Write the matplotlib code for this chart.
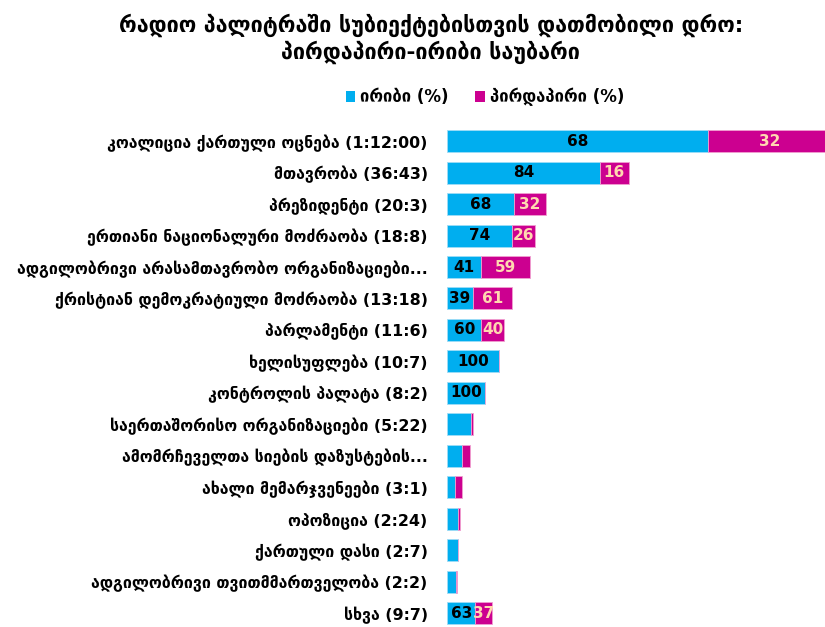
import matplotlib
matplotlib.use("Agg")
import matplotlib.pyplot as plt
import numpy as np
from matplotlib.patches import Patch

plt.rcParams['font.family'] = ['DejaVu Sans']

title = "რადიო პალიტრაში სუბიექტებისთვის დათმობილი დრო:\nპირდაპირი-ირიბი საუბარი"
legend_labels = ["ირიბი (%)", "პირდაპირი (%)"]

categories = [
    "კოალიცია ქართული ოცნება (1:12:00)",
    "მთავრობა (36:43)",
    "პრეზიდენტი (20:3)",
    "ერთიანი ნაციონალური მოძრაობა (18:8)",
    "ადგილობრივი არასამთავრობო ორგანიზაციები...",
    "ქრისტიან დემოკრატიული მოძრაობა (13:18)",
    "პარლამენტი (11:6)",
    "ხელისუფლება (10:7)",
    "კონტროლის პალატა (8:2)",
    "საერთაშორისო ორგანიზაციები (5:22)",
    "ამომრჩეველთა სიების დაზუსტების...",
    "ახალი მემარჯვენეები (3:1)",
    "ოპოზიცია (2:24)",
    "ქართული დასი (2:7)",
    "ადგილობრივი თვითმმართველობა (2:2)",
    "სხვა (9:7)",
]
# total airtime in minutes (bar length)
total_minutes = [78.0, 36.9, 20.0, 17.8, 16.8, 13.2, 11.6, 10.6, 7.6, 5.3, 4.7, 3.0, 2.6, 2.2, 2.1, 9.1]
# share of indirect speech (%)
indirect_pct = [68, 84, 68, 74, 41, 39, 60, 100, 100, 92, 65, 53, 85, 100, 82, 63]
# which rows show value labels
show_labels = [True, True, True, True, True, True, True, True, True,
               False, False, False, False, False, False, True]

blue = "#00AEEF"
magenta = "#CC0090"

total = np.array(total_minutes)
ind = np.array(indirect_pct)
blue_len = total * ind / 100.0
mag_len = total - blue_len

fig = plt.figure(figsize=(8.25, 6.27), dpi=100)
ax = fig.add_axes([0.542, -0.003, 0.458, 0.803])
y = np.arange(len(categories))
ax.barh(y, blue_len, height=0.7, color=blue, edgecolor="#9fdcf7", linewidth=0.6)
ax.barh(y, mag_len, left=blue_len, height=0.7, color=magenta, edgecolor="#f0a0d0", linewidth=0.6)
ax.set_xlim(0, 76.7)
ax.set_ylim(len(categories) - 0.5, -0.5)
for s in ax.spines.values():
    s.set_visible(False)
ax.set_xticks([])
ax.set_yticks(y)
ax.set_yticklabels(categories, fontsize=11.4, fontweight='bold', color='black')
ax.tick_params(axis='y', length=0, pad=14)

for i in range(len(categories)):
    if not show_labels[i]:
        continue
    b = blue_len[i]
    m = mag_len[i]
    if ind[i] > 0:
        ax.text(b / 2, i, str(ind[i]), ha='center', va='center', fontsize=11,
                fontweight='bold', color='black')
    if 100 - ind[i] > 0:
        ax.text(b + m / 2, i, str(100 - ind[i]), ha='center', va='center', fontsize=11,
                fontweight='bold', color='#ffd8b0')

fig.text(0.522, 0.978, title, ha='center', va='top', fontsize=15.5, fontweight='bold',
         linespacing=1.15)

handles = [Patch(facecolor=blue, label=legend_labels[0]),
           Patch(facecolor=magenta, label=legend_labels[1])]
fig.legend(handles=handles, loc='center', bbox_to_anchor=(0.588, 0.845), ncol=2,
           frameon=False, handlelength=0.55, handleheight=0.55,
           handletextpad=0.3, columnspacing=1.6, prop={'weight': 'bold', 'size': 12})

fig.savefig("out.png", dpi=100)
